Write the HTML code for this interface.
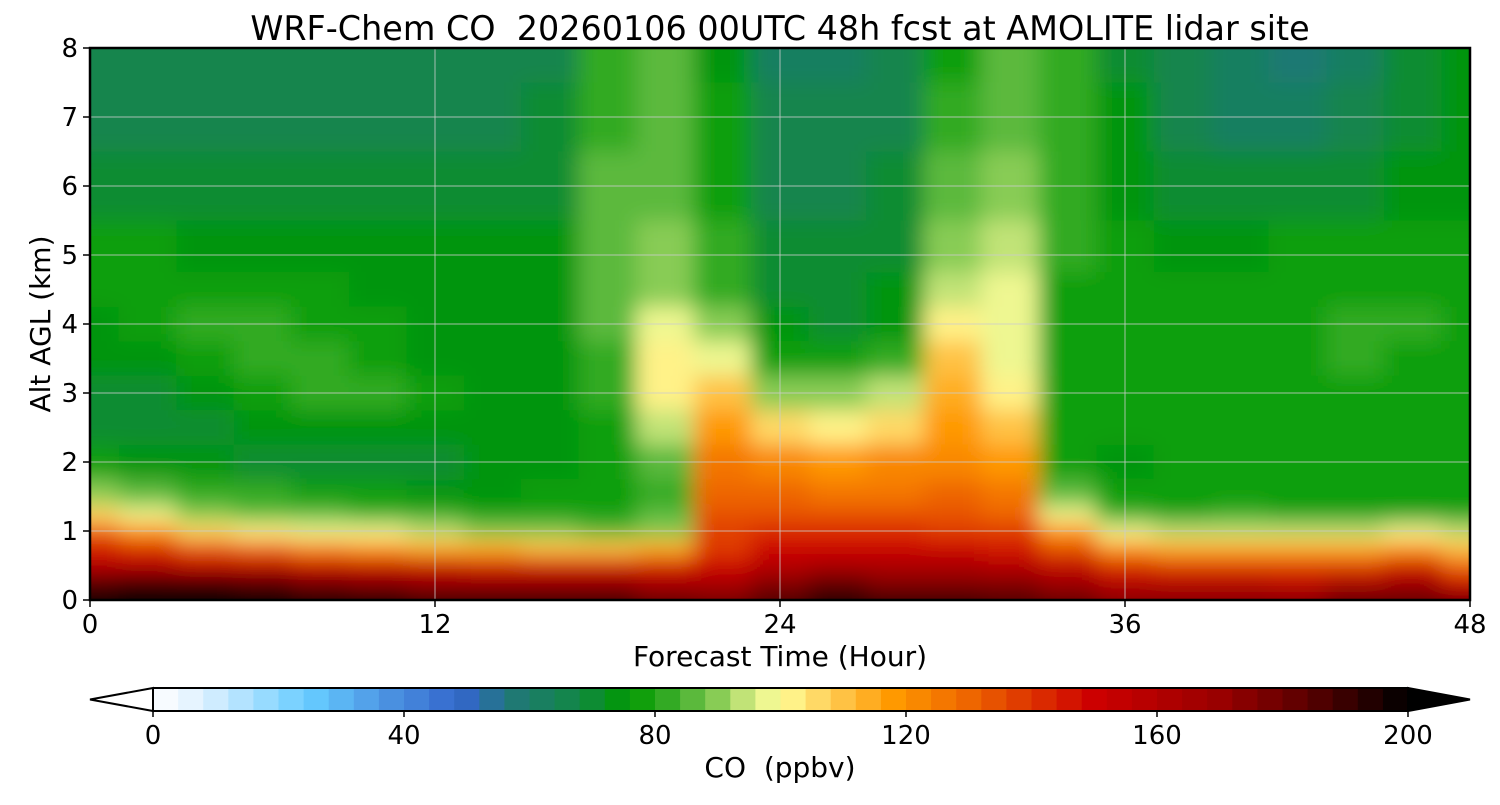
<!DOCTYPE html>
<html><head><meta charset="utf-8"><style>
html,body{margin:0;padding:0;background:#fff;}
svg text{font-family:"DejaVu Sans","Liberation Sans",sans-serif;fill:#000;white-space:pre;}
</style></head><body>
<svg id="chart" width="1500" height="800" xmlns="http://www.w3.org/2000/svg">
<defs>
<clipPath id="pc"><rect x="90" y="48" width="1380" height="552"/></clipPath>
<filter id="bl" x="-10%" y="-10%" width="120%" height="120%"><feGaussianBlur stdDeviation="11"/></filter>
</defs>
<text x="780" y="40" font-size="33.4" text-anchor="middle" xml:space="preserve">WRF-Chem CO  20260106 00UTC 48h fcst at AMOLITE lidar site</text>
<g id="heat" clip-path="url(#pc)"><g id="cells" filter="url(#bl)"></g></g>
<g id="grid"></g>
<rect x="90" y="48" width="1380" height="552" fill="none" stroke="#000" stroke-width="2.5"/>
<g id="axes"></g>
<text x="780" y="666" font-size="28" text-anchor="middle">Forecast Time (Hour)</text>
<text transform="translate(50,324) rotate(-90)" font-size="28" text-anchor="middle">Alt AGL (km)</text>
<g id="cbar"></g>
<text x="780" y="777" font-size="28" text-anchor="middle" xml:space="preserve">CO  (ppbv)</text>
</svg>
<script>
const NS="http://www.w3.org/2000/svg";
const times=[0,2,4,6,8,10,12,14,16,18,20,22,24,26,28,30,32,34,36,38,40,42,44,46,48];
const levels=[8,7,6,5,4.5,4,3.5,3,2.5,2,1.5,1.25,1,0.75,0.5,0.25,0];
const co=[
[64,64,64,64,64,64,64,64,66,80,84,74,62,62,64,76,84,80,70,64,60,58,62,68,72],
[64,64,64,64,64,64,64,64,68,82,86,76,64,64,66,80,86,82,72,66,62,62,64,70,74],
[68,68,68,68,68,68,68,68,70,84,86,76,66,66,68,84,88,80,74,70,68,68,70,74,74],
[76,76,74,74,74,72,72,72,74,86,88,80,68,68,70,88,92,80,76,74,74,76,76,76,76],
[76,76,78,78,76,74,72,72,74,86,90,82,70,68,72,94,96,78,76,76,76,78,78,78,76],
[74,76,80,80,78,76,74,72,74,84,98,88,72,70,74,102,96,76,76,76,76,78,80,80,76],
[72,74,78,80,80,78,74,72,74,82,102,98,78,76,80,108,98,76,76,78,78,78,80,78,76],
[70,70,74,76,80,80,76,72,74,80,100,108,90,88,92,112,102,76,76,78,78,78,78,78,76],
[70,70,70,72,74,74,74,72,72,78,94,118,104,100,104,116,108,76,78,78,78,78,78,78,76],
[76,72,72,70,70,70,70,72,74,76,86,124,120,118,120,122,118,76,72,76,76,76,76,76,76],
[88,86,82,80,78,76,74,74,76,76,82,128,128,126,126,130,126,84,76,76,76,76,76,76,76],
[104,98,90,86,84,82,80,78,78,78,84,132,134,132,132,134,130,96,80,78,80,78,78,78,78],
[130,118,104,100,98,96,92,88,88,86,90,136,140,140,140,138,136,116,98,92,92,94,94,96,92],
[145,140,132,128,122,118,114,112,110,108,112,138,148,150,150,148,146,132,118,112,112,112,112,118,108],
[158,156,154,152,150,148,148,146,145,144,144,148,158,160,162,160,158,152,142,138,138,136,136,145,130],
[185,190,188,186,178,172,168,168,170,168,162,160,172,180,172,172,172,165,158,156,156,155,160,165,150],
[198,200,200,200,198,196,190,190,190,188,182,176,185,195,190,188,185,180,175,172,172,172,180,182,178]];
const xTicks=[0,12,24,36,48];
const yTicks=[0,1,2,3,4,5,6,7,8];
const cbTicks=[0,40,80,120,160,200];
const X=t=>90+t*1380/48, Y=z=>600-z*552/8, CB=v=>153+v*(1408-153)/200;
const stops=[[0,'#ffffff'],[8,'#ddf0ff'],[25,'#66ccff'],[38,'#4a90e0'],[49,'#3366cc'],[57,'#207878'],[68,'#118844'],[76,'#009900'],[84,'#44b030'],[90,'#88cc55'],[96,'#ddee88'],[100,'#ffff99'],[108,'#ffcc55'],[118,'#ff9900'],[130,'#ee6600'],[140,'#dd3300'],[150,'#cc0000'],[170,'#990000'],[185,'#550000'],[200,'#000000']];
function hex(h){return [1,3,5].map(i=>parseInt(h.substr(i,2),16));}
function cmap(v){v=Math.max(0,Math.min(200,Math.floor(v/4)*4+2));
 for(let i=1;i<stops.length;i++){if(v<=stops[i][0]){const a=stops[i-1],b=stops[i],f=(v-a[0])/(b[0]-a[0]);const A=hex(a[1]),B=hex(b[1]);return 'rgb('+A.map((c,k)=>Math.round(c+(B[k]-c)*f)).join(',')+')';}}return '#000';}
function mk(tag,at,par){const e=document.createElementNS(NS,tag);for(const k in at)e.setAttribute(k,at[k]);par.appendChild(e);return e;}
const cells=document.getElementById('cells');
levels.forEach((z,i)=>{const zt=i==0?z+1:(z+levels[i-1])/2, zb=i==levels.length-1?z-1:(z+levels[i+1])/2;
 times.forEach((t,j)=>{const tl=j==0?t-2:(t+times[j-1])/2, tr=j==times.length-1?t+2:(t+times[j+1])/2;
  const r=mk('rect',{x:X(tl),y:Y(zt),width:X(tr)-X(tl)+0.5,height:Y(zb)-Y(zt)+0.5,fill:cmap(co[i][j])},cells);
  
  
 });});
const grid=document.getElementById('grid'),axes=document.getElementById('axes');
xTicks.forEach(t=>{if(t>0&&t<48){const l=mk('line',{x1:X(t),x2:X(t),y1:48,y2:600,stroke:'#ccc','stroke-opacity':0.8,'stroke-width':1},grid);}
 mk('line',{x1:X(t),x2:X(t),y1:600,y2:607,stroke:'#000','stroke-width':1.5},axes);
 const tx=mk('text',{x:X(t),y:633,'font-size':26,'text-anchor':'middle'},axes);tx.textContent=t;
 });
yTicks.forEach(z=>{if(z>0&&z<8){const l=mk('line',{x1:90,x2:1470,y1:Y(z),y2:Y(z),stroke:'#ccc','stroke-opacity':0.8,'stroke-width':1},grid);}
 mk('line',{x1:83,x2:90,y1:Y(z),y2:Y(z),stroke:'#000','stroke-width':1.5},axes);
 const tx=mk('text',{x:78,y:Y(z)+9,'font-size':26,'text-anchor':'end'},axes);tx.textContent=z;
 });
const cb=document.getElementById('cbar');
for(let v=0;v<200;v+=4){const r=mk('rect',{x:CB(v),y:688,width:CB(v+4)-CB(v)+0.5,height:23,fill:cmap(v)},cb);}
mk('polygon',{points:'153,688 90,699.5 153,711',fill:'#fff',stroke:'#000','stroke-width':2},cb);
mk('polygon',{points:'1408,688 1470,699.5 1408,711',fill:'#000',stroke:'#000','stroke-width':2},cb);
mk('polyline',{points:'153,688 1408,688 1408,711 153,711',fill:'none',stroke:'#000','stroke-width':2},cb);
cbTicks.forEach(v=>{mk('line',{x1:CB(v),x2:CB(v),y1:711,y2:717,stroke:'#000','stroke-width':1.5},cb);
 const tx=mk('text',{x:CB(v),y:744,'font-size':26,'text-anchor':'middle'},cb);tx.textContent=v;
 });
</script>
</body></html>
